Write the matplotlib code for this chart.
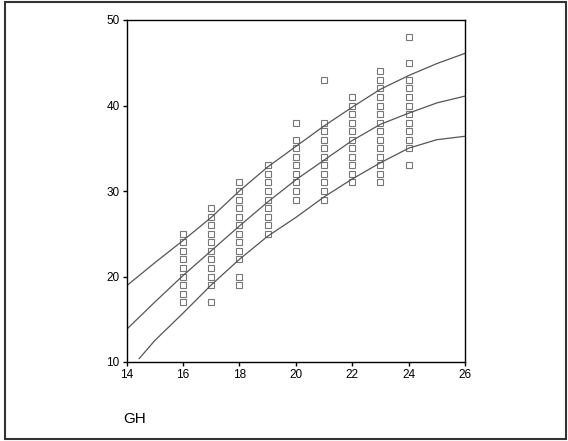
import matplotlib
matplotlib.use("Agg")
import matplotlib.pyplot as plt
from matplotlib.patches import Rectangle

plt.rcParams['font.family'] = ['Liberation Sans', 'DejaVu Sans']

# observed values per GH
gh_16 = [17, 18, 19, 20, 21, 22, 23, 24, 25]
gh_17 = [17, 19, 20, 21, 22, 23, 24, 25, 26, 27, 28]
gh_18 = [19, 20, 22, 23, 24, 25, 26, 27, 28, 29, 30, 31]
gh_19 = [25, 26, 27, 28, 29, 30, 31, 32, 33]
gh_20 = [29, 30, 31, 32, 33, 34, 35, 36, 38]
gh_21 = [29, 30, 31, 32, 33, 34, 35, 36, 37, 38, 43]
gh_22 = [31, 32, 33, 34, 35, 36, 37, 38, 39, 40, 41]
gh_23 = [31, 32, 33, 34, 35, 36, 37, 38, 39, 40, 41, 42, 43, 44]
gh_24 = [33, 35, 36, 37, 38, 39, 40, 41, 42, 43, 45, 48]
groups = {16: gh_16, 17: gh_17, 18: gh_18, 19: gh_19, 20: gh_20,
          21: gh_21, 22: gh_22, 23: gh_23, 24: gh_24}

# centile curves
curve_x = [14, 15, 16, 17, 18, 19, 20, 21, 22, 23, 24, 25, 26]
upper = [18.9, 21.6, 24.2, 26.9, 30.0, 32.8, 35.2, 37.6, 39.8, 41.9, 43.5, 44.9, 46.1]
middle = [13.8, 17.0, 20.1, 23.0, 25.9, 28.7, 31.3, 33.6, 35.9, 37.8, 39.1, 40.3, 41.1]
lower_x = [14.45, 15, 16, 17, 18, 19, 20, 21, 22, 23, 24, 25, 26]
lower = [10.4, 12.5, 15.7, 19.0, 22.0, 24.7, 26.9, 29.3, 31.4, 33.3, 35.0, 36.0, 36.4]

fig = plt.figure(figsize=(5.68, 4.41), dpi=100)
fig.patch.set_facecolor('white')
fig.patches.append(Rectangle((5 / 568, 1 - 439 / 441), 561 / 568, 437 / 441,
                             transform=fig.transFigure, fill=False,
                             edgecolor='#333333', linewidth=1.5))

ax = fig.add_axes([126.5 / 568, 1 - 362 / 441, 338.5 / 568, 342 / 441])

for gh, vals in groups.items():
    ax.plot([gh] * len(vals), vals, linestyle='none', marker='s', markersize=3.8,
            markerfacecolor='white', markeredgecolor='#777777', markeredgewidth=0.8)

line_style = dict(color='#555555', linewidth=0.9)
ax.plot(curve_x, upper, **line_style)
ax.plot(curve_x, middle, **line_style)
ax.plot(lower_x, lower, **line_style)

ax.set_xlim(14, 26)
ax.set_ylim(10, 50)
ax.set_xticks(range(14, 27, 2))
ax.set_yticks(range(10, 51, 10))
ax.tick_params(direction='out', length=3, width=1, labelsize=8.5, pad=2)
for s in ax.spines.values():
    s.set_linewidth(1)
    s.set_color('black')

fig.text(123 / 568, 1 - 419 / 441, 'GH', fontsize=11, va='center', ha='left')

fig.savefig('out.png', dpi=100)
